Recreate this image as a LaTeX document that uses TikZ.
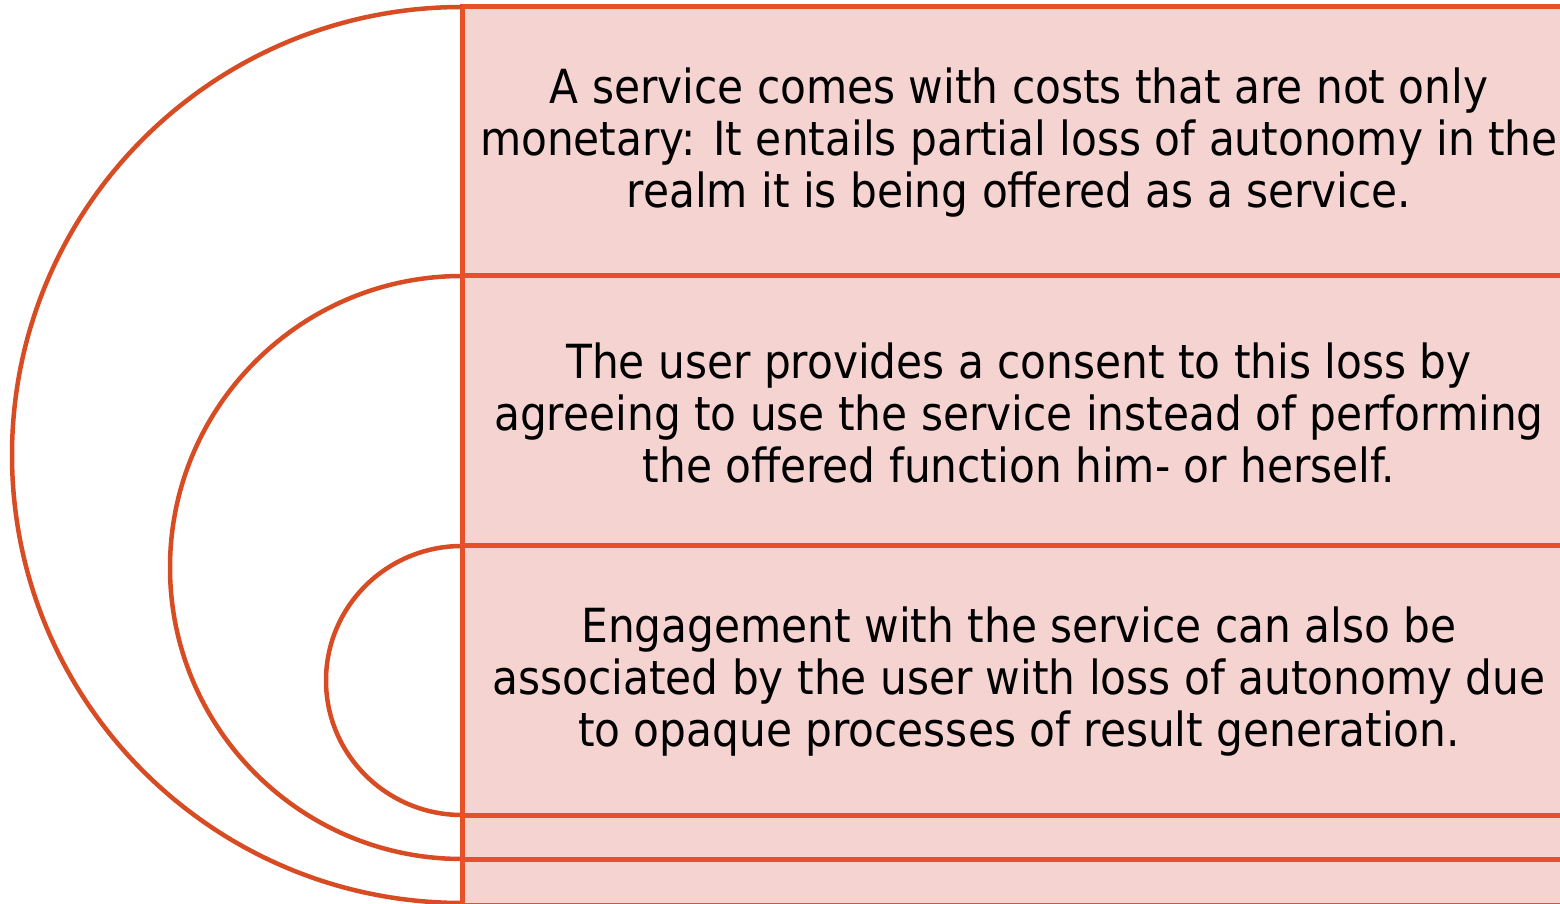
\documentclass[tikz,border=0pt]{standalone}
\usepackage{fontspec}
\setmainfont{DejaVu Sans Condensed}
\definecolor{edge}{RGB}{232,80,40}
\definecolor{arcc}{RGB}{216,76,36}
\definecolor{fillc}{RGB}{245,211,209}
\begin{document}
\begin{tikzpicture}[x=1pt,y=1pt,
  band/.style={draw=edge,fill=fillc,line width=5pt},
  ring/.style={draw=arcc,line width=4.5pt},
  txt/.style={align=center,font=\fontsize{47}{52}\selectfont,inner sep=0pt}]
\useasboundingbox (0,0) rectangle (1560,903);
\fill[white] (0,0) rectangle (1560,903);
% bands
\path[band] (462,-2) rectangle (1580,896);
\path[band] (462,44) rectangle (1580,627);
\path[band] (462,88) rectangle (1580,357);
% arcs
\draw[ring] (462,896) arc[start angle=90,end angle=270,x radius=450,y radius=448];
\draw[ring] (462,627) arc[start angle=90,end angle=270,x radius=292,y radius=291.5];
\draw[ring] (462,357) arc[start angle=90,end angle=270,x radius=136,y radius=134.5];
\draw[draw=edge,line width=5pt] (462,-2) -- (462,896);
\node[txt] (t1) at (1019,760) {A service comes with costs that are not only\\monetary: It entails partial loss of autonomy in the\\realm it is being offered as a service.};
\node[txt] (t2) at (1019,490.5) {The user provides a consent to this loss by\\agreeing to use the service instead of performing\\the offered function him- or herself.};
\node[txt] (t3) at (1019,221) {Engagement with the service can also be\\associated by the user with loss of autonomy due\\to opaque processes of result generation.};
\end{tikzpicture}
\end{document}
